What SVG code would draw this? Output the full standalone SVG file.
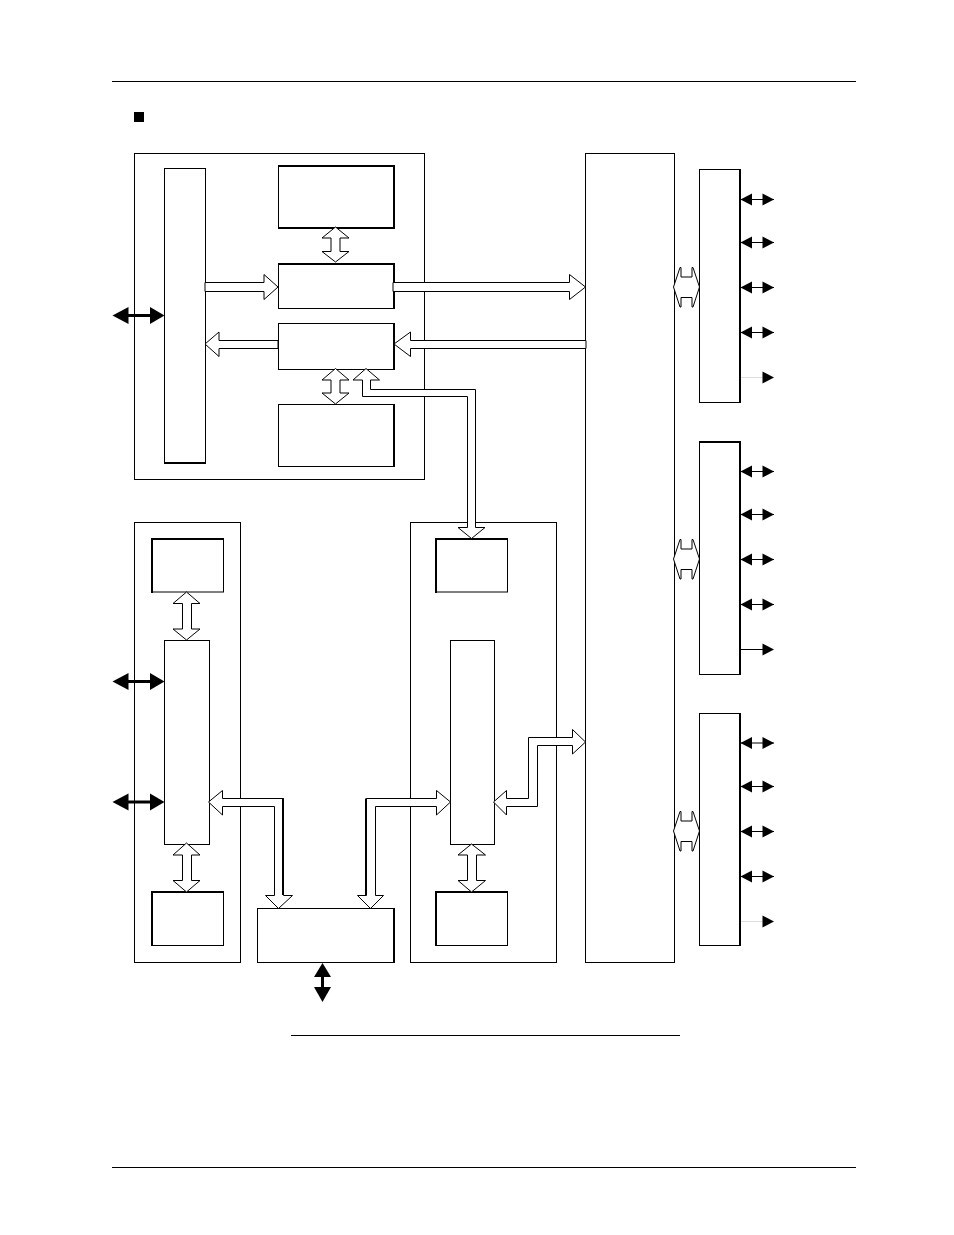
<svg xmlns="http://www.w3.org/2000/svg" width="954" height="1235" viewBox="0 0 954 1235">
<style>
.b{fill:#fff;stroke:#000;stroke-width:1}
.e{fill:none;stroke:#000;stroke-width:2}
.h{fill:#fff;stroke:#000;stroke-width:1;stroke-linejoin:miter}
.l{fill:none;stroke:#000;stroke-width:1}
.k{fill:#000;stroke:none}
.s{stroke:#000;stroke-width:1;fill:none}
.g{stroke:#ddd;stroke-width:1;fill:none}
.t{stroke:#000;stroke-width:3;fill:none}
</style>
<defs>
<g id="bi"><path class="s" d="M741 0H774"/><polygon class="k" points="740.5,0 752,-6 752,6"/><polygon class="k" points="774,0 762.5,-6 762.5,6"/></g>
<g id="bg"><path class="g" d="M741 0H763"/><polygon class="k" points="774,0 762.5,-6 762.5,6"/></g>
<g id="bk"><path class="s" d="M741 0H763"/><polygon class="k" points="774,0 762.5,-6 762.5,6"/></g>
<g id="hd"><polygon class="h" points="673.5,20 680,0.5 681,0.5 681,10 692,10 692,0.5 693,0.5 699.5,20 693,40 692,40 692,30.5 681,30.5 681,40 680,40"/></g>
<g id="tl"><path class="t" d="M125 0H152"/><polygon class="k" points="112.5,0 128.5,-8.5 128.5,8.5"/><polygon class="k" points="164.5,0 150,-8.5 150,8.5"/></g>
</defs>
<g id="page"><path class="l" d="M112 81.5H856M112 1167.5H856M291 1035.5H680"/><rect class="k" x="134" y="112" width="10" height="10"/></g>
<g id="group-top"><rect class="b" x="134.5" y="153.5" width="290" height="326"/></g>
<g id="group-left"><rect class="b" x="134.5" y="522.5" width="106" height="440"/></g>
<g id="group-mid"><rect class="b" x="410.5" y="522.5" width="146" height="440"/></g>
<g id="bus"><rect class="b" x="585.5" y="153.5" width="89" height="809"/></g>
<g id="n1"><rect class="b" x="164.5" y="168.5" width="41" height="294.5"/><path class="e" d="M164 463H206"/></g>
<g id="n2"><rect class="b" x="278.5" y="166" width="115" height="62"/><path class="e" d="M278 166H394V228H278"/></g>
<g id="n3"><rect class="b" x="278.5" y="263.5" width="115" height="45"/><path class="e" d="M278 264H394V309"/></g>
<g id="n4"><rect class="b" x="278.5" y="323.5" width="115" height="46"/><path class="e" d="M394 323V370"/></g>
<g id="n5"><rect class="b" x="278.5" y="404.5" width="115" height="62"/><path class="e" d="M394 404V467"/></g>
<g id="n6"><rect class="b" x="151.5" y="539" width="72" height="53"/><path class="e" d="M224 539H152V593"/></g>
<g id="n7"><rect class="b" x="164.5" y="640.5" width="45" height="204"/></g>
<g id="n8"><rect class="b" x="151.5" y="892" width="72" height="53.5"/><path class="e" d="M224 892H152V946"/></g>
<g id="n9"><rect class="b" x="436" y="539" width="71.5" height="53"/><path class="e" d="M508 539H436V593"/></g>
<g id="n10"><rect class="b" x="450.5" y="640.5" width="44" height="204"/></g>
<g id="n11"><rect class="b" x="436" y="892" width="71.5" height="53.5"/><path class="e" d="M508 892H436V946"/></g>
<g id="n12"><rect class="b" x="257.5" y="908.5" width="136.5" height="54"/><path class="e" d="M394 908V963"/></g>
<g id="n13"><rect class="b" x="699.5" y="169.5" width="40.5" height="233"/><path class="e" d="M740 169V403"/></g>
<g id="n14"><rect class="b" x="699.5" y="441.5" width="40.5" height="233"/><path class="e" d="M699 442H740V675"/></g>
<g id="n15"><rect class="b" x="699.5" y="713.5" width="40.5" height="232"/><path class="e" d="M740 713V946"/></g>
<g id="connectors">
<polygon class="h" points="335.5,227 349,238 340,238 340,251.5 349,251.5 335.5,262 322,251.5 331,251.5 331,238 322,238"/>
<polygon class="h" points="205,282.5 264,282.5 264,274.5 278,287 264,299.5 264,291.5 205,291.5"/>
<polygon class="h" points="393,282.5 569.5,282.5 569.5,274.5 585.5,287 569.5,299.5 569.5,291.5 393,291.5"/>
<polygon class="h" points="205,344 219,332 219,340.5 278,340.5 278,348.5 219,348.5 219,356.5"/>
<polygon class="h" points="394,344 410.5,332 410.5,340.5 586,340.5 586,348.5 410.5,348.5 410.5,356.5"/>
<polygon class="h" points="335.5,368.5 349,380 340,380 340,393 349,393 335.5,404 322,393 331,393 331,380 322,380"/>
<polygon class="h" points="366,368.5 379.5,380 370.5,380 370.5,389.5 475.5,389.5 475.5,527.5 485,527.5 471.5,538.5 458,527.5 467.5,527.5 467.5,396.5 362.5,396.5 362.5,380 353,380"/>
<polygon class="h" points="186.5,592 200,603.5 191.5,603.5 191.5,629 200,629 186.5,640 173,629 182.5,629 182.5,603.5 173,603.5"/>
<polygon class="h" points="186.5,843 200,855 191.5,855 191.5,880.5 200,880.5 186.5,892 173,880.5 182.5,880.5 182.5,855 173,855"/>
<polygon class="h" points="471.5,844 485.5,855 476.5,855 476.5,880.5 485.5,880.5 471.5,892 458,880.5 467.5,880.5 467.5,855 458,855"/>
<polygon class="h" points="208.5,802 222.5,790.5 222.5,798.5 283.5,798.5 283.5,895.5 292.5,895.5 278.5,908.5 265.5,895.5 274.5,895.5 274.5,806.5 222.5,806.5 222.5,815"/>
<path class="e" d="M283 798.5V895"/>
<polygon class="h" points="450.5,802 436.5,790.5 436.5,798.5 366.5,798.5 366.5,895.5 357.5,895.5 370.5,908.5 383.5,895.5 375.5,895.5 375.5,806.5 436.5,806.5 436.5,815"/>
<path class="e" d="M366 798.5V895"/>
<polygon class="h" points="493.5,802 506.5,790.5 506.5,798.5 528.5,798.5 528.5,737.5 572.5,737.5 572.5,729.5 585.5,742 572.5,754 572.5,745.5 537.5,745.5 537.5,806.5 506.5,806.5 506.5,815"/>
<use href="#hd" y="267"/><use href="#hd" y="539"/><use href="#hd" y="811"/>
<use href="#tl" y="315.5"/><use href="#tl" y="681.5"/><use href="#tl" y="802"/>
<path class="t" d="M322.5 970V995"/><polygon class="k" points="322.5,963 331,977 314,977"/><polygon class="k" points="322.5,1002 331,987 314,987"/>
<use href="#bi" y="199.5"/><use href="#bi" y="242.5"/><use href="#bi" y="287.5"/><use href="#bi" y="332.5"/><use href="#bg" y="377.5"/>
<use href="#bi" y="471.5"/><use href="#bi" y="514.5"/><use href="#bi" y="559.5"/><use href="#bi" y="604.5"/><use href="#bk" y="649.5"/>
<use href="#bi" y="743"/><use href="#bi" y="786.5"/><use href="#bi" y="831.5"/><use href="#bi" y="876.5"/><use href="#bg" y="921.5"/>
</g>
</svg>
